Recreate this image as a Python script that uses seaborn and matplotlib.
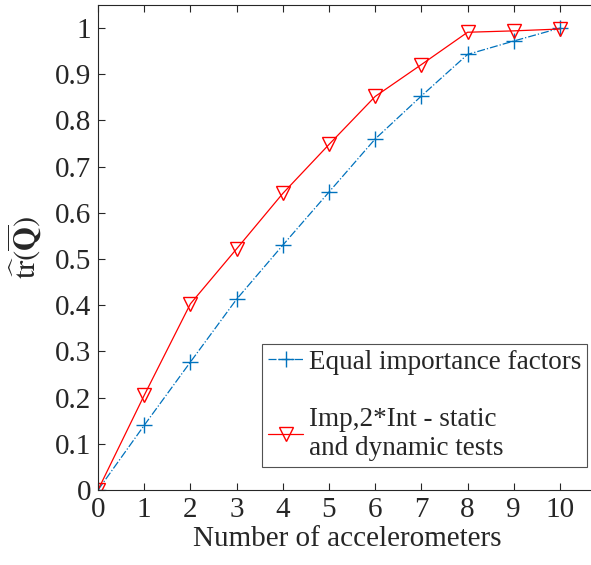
import matplotlib
matplotlib.use("Agg")
import matplotlib.pyplot as plt
import seaborn as sns
import pandas as pd

# Number of accelerometers and normalised trace for the two weighting schemes
n_acc = [0, 1, 2, 3, 4, 5, 6, 7, 8, 9, 10]
equal_factors = [0.0, 0.140, 0.277, 0.413, 0.530, 0.645, 0.760, 0.853, 0.943, 0.972, 1.0]
imp_2int = [0.0, 0.205, 0.403, 0.522, 0.642, 0.748, 0.852, 0.921, 0.991, 0.994, 0.998]
labels = ["Equal importance factors", "Imp,2*Int - static\nand dynamic tests"]
xticks = list(range(0, 11))
yticks = [0, 0.1, 0.2, 0.3, 0.4, 0.5, 0.6, 0.7, 0.8, 0.9, 1.0]
ytick_labels = ["0", "0.1", "0.2", "0.3", "0.4", "0.5", "0.6", "0.7", "0.8", "0.9", "1"]

sns.set_style("ticks")
plt.rcParams["font.family"] = ["Liberation Serif", "DejaVu Serif"]
plt.rcParams["mathtext.fontset"] = "stix"

df = pd.DataFrame({"x": n_acc * 2,
                   "y": equal_factors + imp_2int,
                   "series": [labels[0]] * len(n_acc) + [labels[1]] * len(n_acc)})

fig = plt.figure(figsize=(5.91, 5.65), dpi=100)
ax = fig.add_axes([98 / 591, 75 / 565, 1 - 98 / 591 + 0.01, (490 - 5) / 565])

blue = "#0072BD"
red = "#FF0000"
sns.lineplot(data=df[df.series == labels[0]], x="x", y="y", ax=ax, color=blue,
             linestyle="-.", linewidth=0.9, marker="+", markersize=11,
             markeredgecolor=blue, markeredgewidth=1.0, label=labels[0])
sns.lineplot(data=df[df.series == labels[1]], x="x", y="y", ax=ax, color=red,
             linestyle="-", linewidth=0.9, marker="v", markersize=10,
             markerfacecolor="none", markeredgecolor=red, markeredgewidth=1.0,
             label=labels[1])

ax.set_xlim(0, 10.8)
ax.set_ylim(0, 1.05)
ax.set_xticks(xticks)
ax.set_yticks(yticks)
ax.set_yticklabels(ytick_labels)
ax.tick_params(direction="in", top=True, right=False, length=5, width=0.8,
               colors="#262626", labelsize=21, pad=5)
for side in ["left", "bottom", "top"]:
    ax.spines[side].set_visible(True)
    ax.spines[side].set_color("#262626")
    ax.spines[side].set_linewidth(0.8)
ax.spines["right"].set_visible(False)

ax.set_xlabel("Number of accelerometers", fontsize=21, color="#262626", labelpad=2)
ax.set_ylabel(r"$\widehat{\mathrm{tr}}(\overline{\mathbf{Q}})$", fontsize=22,
              color="#262626", labelpad=8)

leg = ax.legend(loc="lower right", bbox_to_anchor=(0.98, 0.047), fontsize=19.5,
                frameon=True, fancybox=False, edgecolor="#262626",
                handlelength=1.3, handletextpad=0.2, borderpad=0.22,
                labelspacing=1.2, borderaxespad=0.0)
leg.get_frame().set_linewidth(0.8)

fig.savefig("out.png", dpi=100)
